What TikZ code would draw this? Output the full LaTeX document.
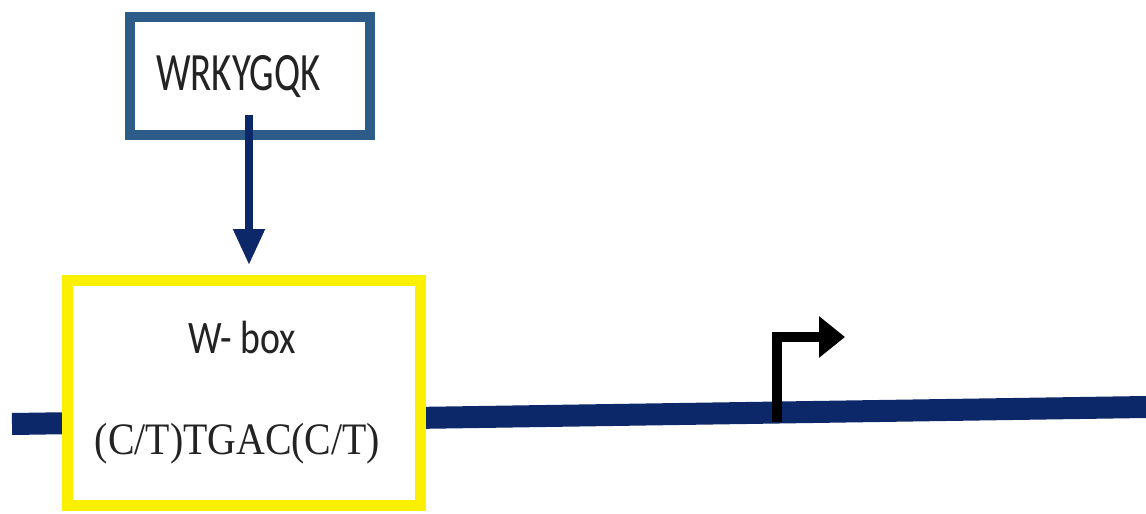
\documentclass[tikz,border=0pt]{standalone}
\usepackage{fontspec}
\setmainfont{Liberation Serif}
\newfontfamily\sansf{Carlito}
\usetikzlibrary{arrows.meta}
\definecolor{steel}{RGB}{46,92,136}
\definecolor{navy}{RGB}{12,40,104}
\definecolor{wyellow}{RGB}{250,240,0}
\definecolor{txt}{RGB}{35,35,35}
\tikzset{
  sanslabel/.style={inner sep=0pt, anchor=base, text=txt, font=\sansf\fontsize{#1}{#1}\selectfont},
  seriflabel/.style={inner sep=0pt, anchor=base, text=txt, font=\fontsize{#1}{#1}\selectfont},
  motifbox/.style={draw=steel, line width=10pt, fill=white, rectangle, inner sep=0pt},
  wboxstyle/.style={draw=wyellow, line width=11pt, fill=white, rectangle, inner sep=0pt},
  dna/.style={draw=navy, line width=22pt},
  bindarrow/.style={draw=navy, line width=8pt, -{Triangle[width=30pt,length=36pt]}},
  promoter/.style={draw=black, line width=10pt, line join=miter, -{Triangle[width=40pt,length=26pt]}}
}
\begin{document}
\begin{tikzpicture}[x=1pt,y=-1pt]
\useasboundingbox (0,0) rectangle (1146,514);
% DNA strand
\coordinate (dnaL) at (12,424);
\coordinate (dnaR) at (1146,407);
\draw[dna] (dnaL) -- (dnaR);
% W-box
\node[wboxstyle, minimum width=353pt, minimum height=225pt] (wbox) at (243.5,392.5) {};
\node[sanslabel=46.6] (wlabel) at (242,353) {\scalebox{0.81}[1]{W- box}};
\node[seriflabel=45] (wseq) at (237.5,454) {\scalebox{0.885}[1]{(C/T)TGAC(C/T)}};
% WRKYGQK box
\node[motifbox, minimum width=240pt, minimum height=118pt] (wrky) at (250,76) {};
\node[sanslabel=54] (wrkylabel) at (238.5,90) {\scalebox{0.72}[1]{WRKYGQK}};
% binding arrow
\coordinate (bstart) at (249,115);
\coordinate (btip) at (249,265);
\draw[bindarrow] (bstart) -- (btip);
% promoter arrow
\coordinate (pbase) at (777,422);
\coordinate (pcorner) at (777,337);
\coordinate (ptip) at (845,337);
\draw[promoter] (pbase) -- (pcorner) -- (ptip);
\end{tikzpicture}
\end{document}
